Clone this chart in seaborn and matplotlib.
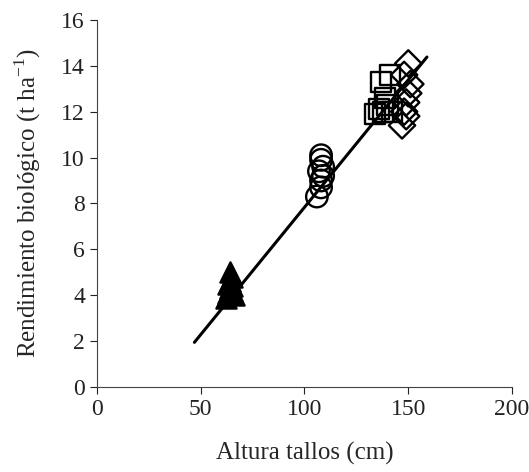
import numpy as np
import pandas as pd
import matplotlib
matplotlib.use("Agg")
import matplotlib.pyplot as plt
import seaborn as sns

# stem height (cm) and biological yield (t/ha) for four groups
tri_x = [62, 63, 64, 64, 65, 65, 66, 63, 64, 65]
tri_y = [3.9, 4.1, 4.3, 4.6, 4.8, 4.2, 4.0, 4.5, 5.0, 4.4]
circ_x = [106, 108, 108, 109, 107, 109, 108, 108]
circ_y = [8.3, 8.7, 9.0, 9.2, 9.4, 9.6, 9.9, 10.1]
sq_x = [134, 136, 138, 140, 137, 141, 139, 142]
sq_y = [11.9, 12.1, 12.0, 12.3, 13.3, 13.6, 12.6, 12.0]
dia_x = [147, 148, 149, 150, 151, 148, 150, 149]
dia_y = [11.4, 12.0, 12.4, 12.8, 13.2, 13.6, 14.1, 11.8]

# regression line
line_x = [47, 159]
fit_slope = 0.111
fit_intercept = -3.27

xticks = [0, 50, 100, 150, 200]
yticks = [0, 2, 4, 6, 8, 10, 12, 14, 16]

df = pd.DataFrame({
    "x": tri_x + circ_x + sq_x + dia_x,
    "y": tri_y + circ_y + sq_y + dia_y,
    "grupo": ["tri"] * len(tri_x) + ["circ"] * len(circ_x)
    + ["sq"] * len(sq_x) + ["dia"] * len(dia_x),
})

sns.set_style("ticks")
plt.rcParams["font.family"] = ["Liberation Serif", "DejaVu Serif"]
plt.rcParams["mathtext.fontset"] = "custom"
plt.rcParams["mathtext.rm"] = "Liberation Serif"

fig = plt.figure(figsize=(5.29, 4.72), dpi=100)
ax = fig.add_axes([0.183, 0.180, 0.785, 0.778])

styles = {
    "tri": ("^", "black", 210),
    "circ": ("o", "none", 240),
    "sq": ("s", "none", 210),
    "dia": ("D", "none", 180),
}
for g, (m, fc, s) in styles.items():
    sub = df[df["grupo"] == g]
    sns.scatterplot(data=sub, x="x", y="y", marker=m, s=s,
                    facecolors=fc, edgecolor="black", linewidth=1.7,
                    ax=ax, legend=False, zorder=3)

fit = pd.DataFrame({"x": line_x, "y": [fit_intercept + fit_slope * v for v in line_x]})
sns.lineplot(data=fit, x="x", y="y", color="black", linewidth=2.2, ax=ax, zorder=4)

ax.set_xlim(0, 200)
ax.set_ylim(0, 16)
ax.set_xticks(xticks)
ax.set_yticks(yticks)
ax.tick_params(direction="out", length=5, width=0.8, labelsize=17, colors="#222222")
ax.set_xlabel("Altura tallos (cm)", fontsize=18, labelpad=16)
ax.set_ylabel("Rendimiento biológico (t ha$^{\\mathregular{-1}}$)", fontsize=18, labelpad=13)
sns.despine(ax=ax)
for sp in ax.spines.values():
    sp.set_color("#444444")

fig.savefig("out.png", dpi=100)
